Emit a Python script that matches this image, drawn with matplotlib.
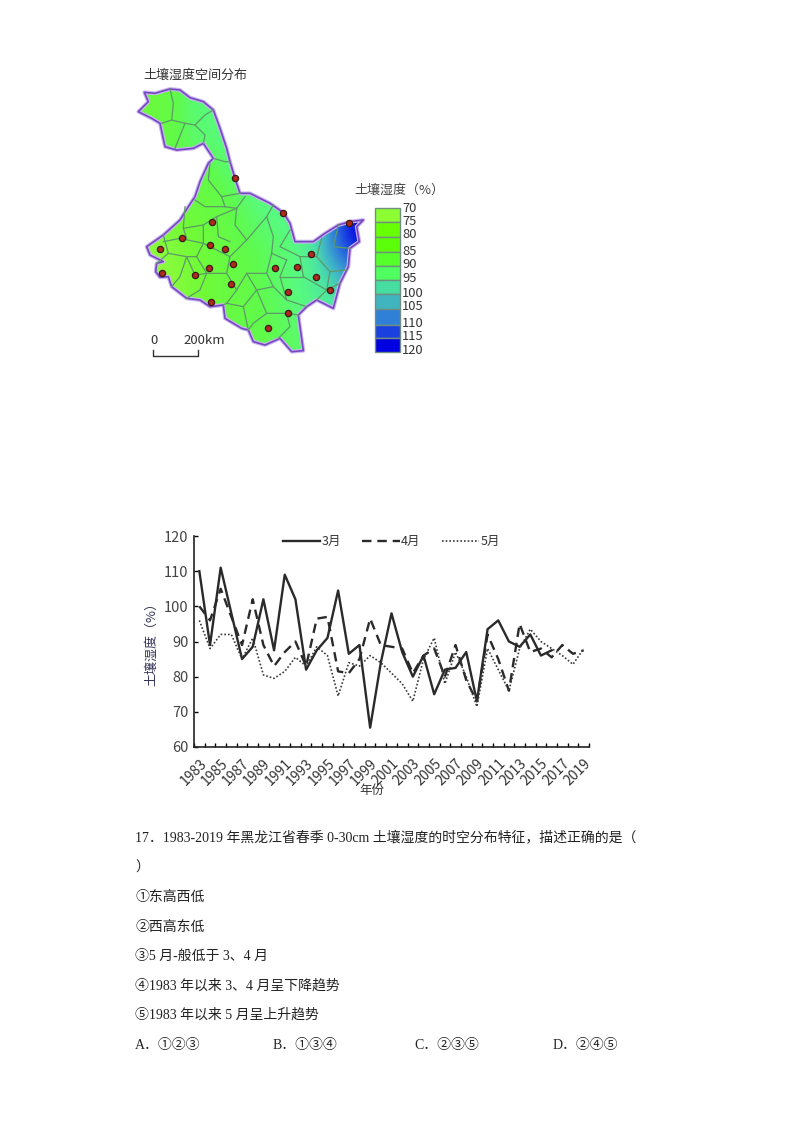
import numpy as np
import matplotlib
matplotlib.use("Agg")
import matplotlib.pyplot as plt
from matplotlib.patches import Polygon, Rectangle
from matplotlib.colors import LinearSegmentedColormap, Normalize

plt.rcParams['font.family'] = ['Noto Sans CJK SC', 'DejaVu Sans']

# ---------- data ----------
years = list(range(1983, 2020))
march = [110, 89, 111, 98, 85, 88.5, 102, 87.5, 109, 102, 82, 87.5, 91, 104.5, 86.5, 89, 65.5, 84, 98, 87, 80, 86,
         75, 82, 82.5, 87, 73, 93.5, 96, 90, 88.5, 92, 86, 87.5]
april = [100, 96, 105, 97, 89, 102, 89, 83, 87, 90, 83, 96.5, 97, 81.5, 81, 85, 96.5, 89, 88.5, 88, 81, 86,
         88, 80, 89, 79, 73, 92, 85, 76, 95, 87, 88, 85.5, 89, 86.5, 87.5]
may = [96, 88, 92, 92, 85, 91, 80.5, 79.5, 81.5, 85.5, 83, 88.5, 86, 74.5, 84, 83, 86, 84, 81, 78, 73, 85,
       91, 78, 87, 80, 71.5, 88, 82, 76, 88, 93.5, 90, 88, 86, 83.5, 88]

class_colors = ['#8CFF32', '#68FF05', '#5CFF0A', '#55FF2A', '#50FF60',
                '#45DDA0', '#40B5C0', '#3080D8', '#1A40E0', '#0000E0']
field_values = [70, 76, 82, 88, 93, 98, 103, 108, 114, 120]
field_colors = ['#A4FF44', '#8CFC3C', '#70FA38', '#60FA4C', '#58FA80',
                '#4CE4A4', '#40B5C8', '#3080D8', '#1A40E0', '#0000E0']
legend_labels = ['70', '75', '80', '85', '90', '95', '100', '105', '110', '115', '120']
legend_label_pos = [445, 485, 522, 575, 612, 657, 700, 740, 790, 828, 870]
legend_edges = [445, 487, 530, 575, 618, 660, 703, 747, 795, 835, 875]

grid_x = [0, 60, 120, 180, 240, 300, 360, 420, 480, 540, 600, 660, 720]
grid_y = [90, 170, 250, 330, 410, 490, 570, 650, 730, 810, 890]
moisture = [
    [84, 84, 86, 92, 93, 94, 95, 95, 95, 95, 95, 95, 95],
    [84, 84, 86, 91, 92, 93, 95, 95, 95, 95, 95, 95, 95],
    [84, 84, 86, 91, 92, 93, 96, 96, 96, 96, 96, 96, 96],
    [85, 85, 86, 86, 87, 92, 95, 97, 97, 97, 97, 97, 97],
    [80, 82, 84, 85, 86, 88, 92, 94, 96, 96, 99, 108, 120],
    [78, 78, 80, 82, 84, 87, 90, 92, 94, 96, 106, 120, 125],
    [76, 76, 78, 81, 84, 86, 88, 90, 92, 96, 106, 114, 118],
    [78, 74, 76, 80, 83, 85, 87, 90, 92, 95, 100, 105, 108],
    [80, 76, 76, 80, 83, 85, 87, 89, 92, 94, 97, 99, 99],
    [82, 80, 80, 82, 84, 86, 87, 88, 90, 92, 94, 94, 94],
    [82, 80, 80, 82, 84, 86, 87, 88, 90, 92, 94, 94, 94],
]

province_x = [43, 75, 120, 150, 180, 220, 250, 270, 290, 300, 315, 330, 360, 420, 460, 480, 495, 550, 585, 625, 660,
              700, 680, 688, 660, 655, 630, 610, 560, 530, 505, 520, 485, 450, 405, 370, 355, 335, 285, 280, 240,
              210, 170, 125, 115, 90, 77, 80, 100, 60, 50, 100, 150, 175, 195, 210, 235, 250, 220, 190, 140, 105,
              90, 65, 25, 55]
province_y = [97, 100, 87, 90, 113, 125, 150, 205, 265, 305, 355, 400, 400, 430, 458, 490, 545, 545, 520, 495, 485,
              480, 500, 545, 565, 620, 670, 745, 720, 740, 765, 872, 875, 835, 855, 845, 810, 805, 775, 735, 740,
              720, 715, 680, 650, 652, 635, 610, 605, 585, 560, 525, 480, 440, 410, 365, 310, 295, 250, 265, 270,
              260, 190, 175, 155, 125]

boundaries = [
    [(120, 87), (130, 130), (125, 180), (95, 190)],
    [(125, 180), (165, 190), (135, 265)],
    [(165, 190), (195, 195), (225, 165), (250, 150)],
    [(195, 195), (225, 225), (220, 250)],
    [(250, 295), (285, 305), (300, 305)],
    [(240, 310), (235, 360), (275, 410), (330, 400)],
    [(275, 410), (285, 440), (320, 445), (345, 410)],
    [(195, 420), (225, 440), (285, 440)],
    [(165, 440), (160, 505), (220, 495), (260, 470), (320, 445)],
    [(320, 445), (315, 495), (350, 540), (410, 470), (430, 435)],
    [(410, 470), (430, 530), (425, 580), (470, 600)],
    [(480, 510), (450, 560), (510, 590), (560, 590), (575, 535)],
    [(510, 590), (520, 650), (590, 690), (630, 670)],
    [(560, 590), (600, 635), (650, 630)],
    [(600, 635), (590, 690), (560, 720)],
    [(625, 495), (610, 560), (660, 565)],
    [(100, 525), (115, 580), (80, 610)],
    [(115, 580), (170, 590), (150, 650), (125, 680)],
    [(100, 545), (150, 535), (220, 550), (200, 590), (170, 590)],
    [(160, 505), (170, 535)],
    [(220, 495), (220, 550), (300, 590), (350, 540)],
    [(260, 470), (265, 530), (300, 545)],
    [(200, 590), (230, 640), (210, 690), (170, 715)],
    [(170, 590), (195, 645), (230, 640)],
    [(230, 640), (290, 640), (300, 590)],
    [(290, 640), (320, 690), (290, 730), (280, 735)],
    [(320, 690), (350, 640), (410, 640), (425, 580)],
    [(350, 640), (380, 690), (340, 740), (290, 730)],
    [(380, 690), (430, 680), (470, 720), (530, 740)],
    [(430, 680), (410, 640)],
    [(470, 600), (450, 650), (470, 720)],
    [(450, 650), (520, 650)],
    [(340, 740), (355, 810)],
    [(380, 690), (410, 760), (370, 790), (355, 810)],
    [(410, 760), (470, 760), (505, 765)],
    [(470, 760), (480, 800), (445, 835)],
]

stations_x = [315, 460, 657, 247, 156, 89, 97, 240, 285, 310, 237, 195, 302, 244, 435, 500, 543, 557, 600, 475, 473, 414]
stations_y = [354, 458, 490, 486, 535, 566, 639, 554, 567, 611, 624, 645, 672, 725, 623, 622, 582, 652, 691, 697, 760, 805]

body_lines = [
    (135, 838, '17．1983-2019 年黑龙江省春季 0-30cm 土壤湿度的时空分布特征，描述正确的是（'),
    (135, 868, '）'),
    (135, 897, '①东高西低'),
    (135, 927, '②西高东低'),
    (135, 956, '③5 月-般低于 3、4 月'),
    (135, 986, '④1983 年以来 3、4 月呈下降趋势'),
    (135, 1015, '⑤1983 年以来 5 月呈上升趋势'),
    (135, 1045, 'A．①②③'),
    (273, 1045, 'B．①③④'),
    (414, 1045, 'C．②③⑤'),
    (553, 1045, 'D．②④⑤'),
]

# ---------- figure ----------
W, H = 800, 1132
fig = plt.figure(figsize=(W / 100, H / 100), dpi=100, facecolor='white')


def px_axes(x, y, w, h):
    return fig.add_axes([x / W, 1 - (y + h) / H, w / W, h / H])


# ---------- map ----------
mp = px_axes(130, 60, 320, 310)
mp.axis('off')
pos = [(v - field_values[0]) / (field_values[-1] - field_values[0]) for v in field_values]
cmap = LinearSegmentedColormap.from_list('moist', list(zip(pos, field_colors)))
outline_xy = np.column_stack([province_x, province_y])
outline = Polygon(outline_xy, closed=True, fc='none', ec='none', transform=mp.transData)
im = mp.imshow(moisture, extent=(grid_x[0] - 30, grid_x[-1] + 30, grid_y[-1] + 40, grid_y[0] - 40),
               cmap=cmap, norm=Normalize(field_values[0], field_values[-1]),
               interpolation='bicubic', aspect='auto', origin='upper')
mp.set_xlim(0, 960)
mp.set_ylim(930, 0)
mp.add_patch(outline)
im.set_clip_path(outline)
for line in boundaries:
    pts = np.array(line)
    mp.plot(pts[:, 0], pts[:, 1], color='#5c9a68', lw=0.9, solid_joinstyle='round')
mp.add_patch(Polygon(outline_xy, closed=True, fc='none', ec='#cdb4f2', lw=2.8, joinstyle='round'))
mp.add_patch(Polygon(outline_xy, closed=True, fc='none', ec='#7448c0', lw=1.2, joinstyle='round'))
mp.scatter(stations_x, stations_y, s=20, c='#b02a1c', edgecolors='#3a1a14', linewidths=0.9, zorder=5)
mp.text(40, 45, '土壤湿度空间分布', fontsize=9.4, color='#333333', va='center')
mp.text(73, 842, '0', fontsize=9.5, color='#333333', ha='center', va='center')
mp.text(223, 842, '200km', fontsize=9.5, color='#333333', ha='center', va='center')
mp.plot([68, 68, 205, 205], [870, 887, 887, 870], color='#333333', lw=1)
mp.text(672, 390, '土壤湿度（%）', fontsize=9.4, color='#444444', va='center')
for top, bottom, col in zip(legend_edges[:-1], legend_edges[1:], class_colors):
    mp.add_patch(Rectangle((735, top), 75, bottom - top, fc=col, ec='#6f8f80', lw=1))
for lab, y in zip(legend_labels, legend_label_pos):
    mp.text(817, y, lab, fontsize=9.3, color='#333333', va='center')

# ---------- line chart ----------
ax = px_axes(194, 536, 395, 211)
ax.set_xlim(-0.5, 36.5)
ax.set_ylim(60, 120)
idx = np.arange(len(years))
ax.plot(idx[:len(march)], march, color='#2a2a2a', lw=1.7, label='3月')
ax.plot(idx, april, color='#2a2a2a', lw=1.7, ls=(0, (4, 2.5)), label='4月')
ax.plot(idx, may, color='#3a3a3a', lw=1.2, ls=(0, (1, 1.2)), label='5月')
for s in ('top', 'right'):
    ax.spines[s].set_visible(False)
for s in ('left', 'bottom'):
    ax.spines[s].set_linewidth(1.2)
    ax.spines[s].set_color('#222222')
ax.set_yticks(range(60, 121, 10))
ax.tick_params(axis='y', direction='in', length=3, width=1, labelsize=10.5, labelcolor='#444444', pad=4)
ax.set_xticks(idx[::2])
ax.set_xticklabels([str(y) for y in years[::2]], rotation=45, ha='right', rotation_mode='anchor',
                   fontsize=10, color='#333333')
ax.set_xticks(np.arange(-0.5, 37), minor=True)
ax.tick_params(axis='x', which='minor', direction='in', length=3, width=1)
ax.tick_params(axis='x', which='major', length=0, pad=7)
ax.set_ylabel('土壤湿度（%）', fontsize=9.4, color='#333355', labelpad=4)
ax.set_xlabel('年份', fontsize=9, color='#333333')
ax.xaxis.set_label_coords((372 - 194) / 395, -(790 - 747) / 211, transform=ax.transAxes)
ax.xaxis.label.set_va('center')
ax.legend(loc='upper left', bbox_to_anchor=(0.225, 1.005), ncol=3, frameon=False, fontsize=9,
          handlelength=3.0, handletextpad=0.1, columnspacing=1.7, borderpad=0, borderaxespad=0,
          labelcolor='#333333')

# ---------- question text ----------
for x, y, s in body_lines:
    fig.text(x / W, 1 - y / H, s, fontsize=10, color='#222222', va='center', ha='left',
             family=['Liberation Serif', 'Noto Sans CJK SC', 'DejaVu Sans'])

fig.savefig('out.png', dpi=100, facecolor='white')
